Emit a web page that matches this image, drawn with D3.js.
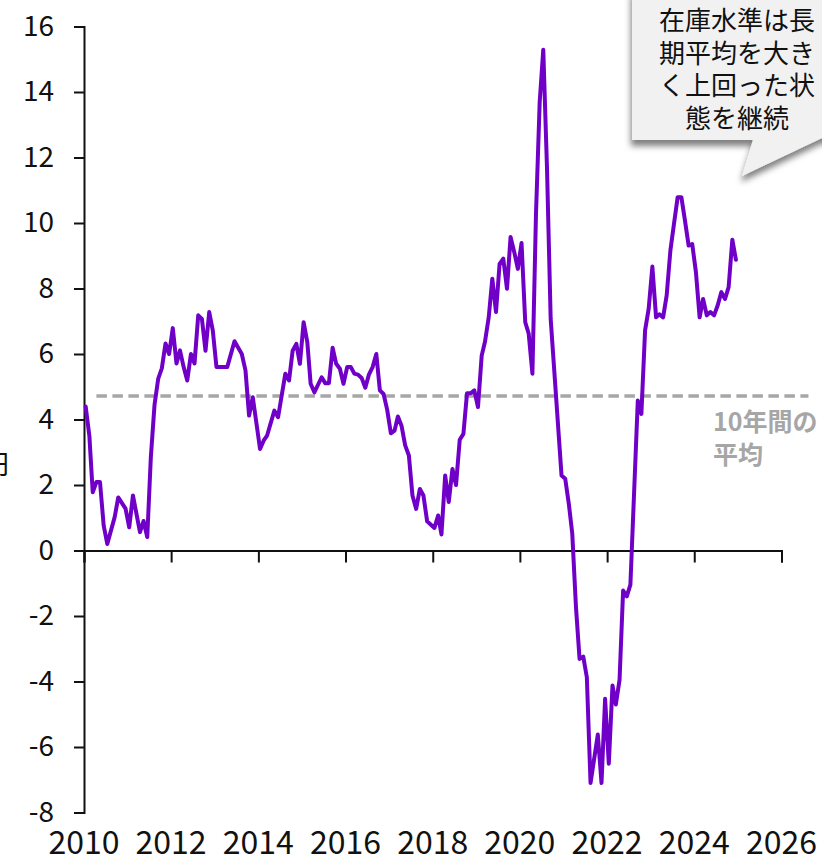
<!DOCTYPE html>
<html>
<head>
<meta charset="utf-8">
<script src="https://cdn.jsdelivr.net/npm/d3@7"></script>
<style>
  html, body { margin: 0; padding: 0; background: #fff; }
  svg { display: block; font-family: "Noto Sans CJK JP", "Noto Sans", sans-serif; }
</style>
</head>
<body>
<svg id="chart" width="822" height="858"></svg>
<script>
// Monthly inventory gap (兆円), vertices of the series
const months = [
  "2010-01","2010-02","2010-03","2010-04","2010-05","2010-06","2010-07","2010-09","2010-10","2010-12",
  "2011-01","2011-02","2011-04","2011-05","2011-06","2011-07","2011-08","2011-09","2011-10","2011-11","2011-12",
  "2012-01","2012-02","2012-03","2012-04","2012-05","2012-06","2012-07","2012-08","2012-09","2012-10","2012-11","2012-12",
  "2013-01","2013-04","2013-06","2013-08","2013-09","2013-10","2013-11",
  "2014-01","2014-02","2014-03","2014-05","2014-06","2014-08","2014-09","2014-10","2014-11","2014-12",
  "2015-01","2015-02","2015-03","2015-04","2015-06","2015-07","2015-08","2015-09","2015-10","2015-11","2015-12",
  "2016-01","2016-02","2016-03","2016-04","2016-05","2016-06","2016-07","2016-08","2016-09","2016-10","2016-11","2016-12",
  "2017-01","2017-02","2017-03","2017-04","2017-05","2017-06","2017-07","2017-08","2017-09","2017-10","2017-11",
  "2018-01","2018-02","2018-03","2018-04","2018-05","2018-06","2018-07","2018-08","2018-09","2018-10","2018-11","2018-12",
  "2019-01","2019-02","2019-03","2019-04","2019-05","2019-06","2019-07","2019-08","2019-09","2019-10","2019-11","2019-12",
  "2020-01","2020-02","2020-03","2020-04","2020-05","2020-06","2020-07","2020-08","2020-09","2020-12",
  "2021-01","2021-02","2021-03","2021-04","2021-05","2021-06","2021-07","2021-08","2021-10","2021-11","2021-12",
  "2022-01","2022-02","2022-03","2022-04","2022-05","2022-06","2022-07","2022-09","2022-10","2022-11","2022-12",
  "2023-01","2023-02","2023-03","2023-04","2023-05","2023-06","2023-07","2023-08","2023-09","2023-10","2023-11","2023-12",
  "2024-01","2024-02","2024-03","2024-04","2024-05","2024-06","2024-07","2024-08","2024-09","2024-10","2024-11","2024-12"
];
const values = [
  4.40,3.50,1.78,2.09,2.09,0.76,0.20,1.02,1.62,1.28,
  0.71,1.68,0.56,0.90,0.41,2.85,4.45,5.25,5.56,6.32,6.00,
  6.79,5.71,6.11,5.60,5.19,6.00,5.71,7.18,7.07,6.10,7.28,6.72,
  5.60,5.60,6.39,6.00,5.50,4.12,4.68,
  3.10,3.36,3.51,4.27,4.07,5.40,5.19,6.10,6.31,5.70,
  6.97,6.36,5.09,4.83,5.29,5.11,5.11,6.19,5.70,5.55,5.09,
  5.60,5.60,5.40,5.37,5.27,4.97,5.37,5.60,6.00,4.89,4.78,4.30,
  3.58,3.66,4.09,3.80,3.21,2.90,1.68,1.27,1.88,1.68,0.89,
  0.69,1.07,0.49,2.29,1.48,2.49,2.00,3.38,3.56,4.80,4.80,4.89,
  4.38,5.95,6.38,7.12,8.30,7.28,8.75,8.91,7.99,9.57,9.11,8.60,
  9.39,6.97,6.62,5.40,10.28,13.69,15.29,11.71,7.07,2.29,
  2.19,1.40,0.51,-1.73,-3.31,-3.24,-3.87,-7.10,-5.62,-7.10,-4.53,
  -6.51,-4.12,-4.70,-3.95,-1.22,-1.40,-1.04,4.58,4.17,6.72,7.38,
  8.67,7.12,7.21,7.12,7.79,9.16,9.97,10.79,10.79,10.08,9.31,9.36,
  8.50,7.12,7.68,7.18,7.28,7.18,7.48,7.89,7.68,8.04,9.49,8.88
];

// Ten-year average level
const averageValue = 4.72;
const averageSpan = ["2010-04", "2026-08"];
const averageLabel = ["10年間の", "平均"];

const yTicks = [-8, -6, -4, -2, 0, 2, 4, 6, 8, 10, 12, 14, 16];
const xTickYears = [2010, 2012, 2014, 2016, 2018, 2020, 2022, 2024, 2026];
const unitLabel = "兆円";
const calloutLines = ["在庫水準は長", "期平均を大き", "く上回った状", "態を継続"];

const parseMonth = s => { const [y, m] = s.split("-").map(Number); return new Date(y, m - 1, 15); };
const data = months.map((m, i) => ({ date: parseMonth(m), value: values[i] }));

const svg = d3.select("#chart");

const x = d3.scaleTime()
  .domain([new Date(2010, 0, 1), new Date(2026, 0, 1)])
  .range([84, 781.5]);
const y = d3.scaleLinear().domain([-8, 16]).range([812.5, 26.5]);

// Drop shadow for the callout
const defs = svg.append("defs");
const f = defs.append("filter").attr("id", "shadow")
  .attr("x", "-20%").attr("y", "-20%").attr("width", "140%").attr("height", "160%");
f.append("feDropShadow").attr("dx", -1).attr("dy", 6).attr("stdDeviation", 3)
  .attr("flood-color", "#000").attr("flood-opacity", 0.5);

// Y axis
const yAxis = d3.axisLeft(y).tickValues(yTicks).tickSize(10).tickPadding(20)
  .tickFormat(d => d3.format("d")(d).replace("−", "-"));
const gy = svg.append("g").attr("transform", `translate(${x.range()[0]},0)`).call(yAxis);
gy.select(".domain").attr("stroke", "#111").attr("stroke-width", 2);
gy.selectAll(".tick line").attr("stroke", "#111").attr("stroke-width", 2);
gy.selectAll(".tick text").attr("fill", "#111").style("font-size", "28px")
  .style("font-family", "'Noto Sans CJK JP', sans-serif");

// X axis along zero, labels at bottom
const xTickDates = xTickYears.map(yr => new Date(yr, 0, 1));
const xAxis = d3.axisBottom(x).tickValues(xTickDates).tickSize(12).tickFormat("");
const gx = svg.append("g").attr("transform", `translate(0,${y(0)})`).call(xAxis);
gx.select(".domain").attr("stroke", "#111").attr("stroke-width", 2);
gx.selectAll(".tick line").attr("stroke", "#111").attr("stroke-width", 2);

svg.append("g").selectAll("text").data(xTickDates).join("text")
  .attr("x", d => x(d)).attr("y", 854)
  .attr("text-anchor", "middle").attr("fill", "#111")
  .style("font-size", "32px")
  .text(d => d.getFullYear());

// Unit label (partly outside the left edge)
svg.append("text").attr("x", 9).attr("y", 474).attr("text-anchor", "end")
  .attr("fill", "#111").style("font-size", "27px").text(unitLabel);

// Average dashed line
svg.append("line")
  .attr("x1", x(parseMonth(averageSpan[0]))).attr("x2", x(parseMonth(averageSpan[1])))
  .attr("y1", y(averageValue)).attr("y2", y(averageValue))
  .attr("stroke", "#a6a6a6").attr("stroke-width", 3.5).attr("stroke-dasharray", "10.5,5.5");

svg.append("g").selectAll("text").data(averageLabel).join("text")
  .attr("x", 713).attr("y", (d, i) => 431 + i * 33)
  .attr("fill", "#a6a6a6").style("font-size", "25px").style("font-weight", "bold")
  .text(d => d);

// Series line
const line = d3.line().x(d => x(d.date)).y(d => y(d.value));
svg.append("path").datum(data)
  .attr("d", line).attr("fill", "none")
  .attr("stroke", "#7000c8").attr("stroke-width", 4)
  .attr("stroke-linejoin", "round").attr("stroke-linecap", "round");

// Callout box with tail
const callout = svg.append("g");
callout.append("path")
  .attr("d", "M632,-10 L832,-10 L832,138 L822,138 L742,176 L753,140 L632,140 Z")
  .attr("fill", "#f1f1f1").attr("filter", "url(#shadow)");
callout.selectAll("text").data(calloutLines).join("text")
  .attr("x", 737).attr("y", (d, i) => 30 + i * 32.5)
  .attr("text-anchor", "middle").attr("fill", "#111")
  .style("font-size", "26px")
  .text(d => d);
</script>
</body>
</html>
